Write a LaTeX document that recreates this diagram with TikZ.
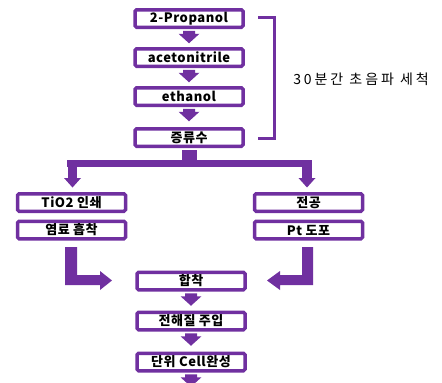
\documentclass[tikz,border=0pt]{standalone}
\usepackage{fontspec}
\setmainfont{Noto Sans CJK KR}
\newfontfamily\spacedfont[LetterSpace=21]{Noto Sans CJK KR}
\newfontfamily\boxfont[LetterSpace=4]{Noto Sans CJK KR}
\definecolor{vio}{HTML}{7030A0}
\begin{document}
\begin{tikzpicture}[x=1pt,y=-1pt,
  stepbox/.style={draw=vio,line width=3.5pt,fill=white,rounded corners=1.5pt,
    minimum width=108pt,minimum height=17.5pt,inner sep=0pt,
    font=\fontsize{13pt}{14pt}\boxfont\bfseries},
  blk/.style={fill=vio,draw=none}]
\useasboundingbox (0,0) rectangle (442,383);
% column boxes
\node[stepbox] (b1) at (189,18.5) {2-Propanol};
\node[stepbox] (b2) at (189,57.5) {acetonitrile};
\node[stepbox] (b3) at (189,96.5) {ethanol};
\node[stepbox] (b4) at (189,137.5) {증류수};
\node[stepbox] (l1) at (71.5,202.5) {TiO2 인쇄};
\node[stepbox] (l2) at (71.5,230) {염료 흡착};
\node[stepbox] (r1) at (308.5,202.5) {전공};
\node[stepbox] (r2) at (308.5,230) {Pt 도포};
\node[stepbox] (m1) at (191,281) {합착};
\node[stepbox] (m2) at (191,321) {전해질 주입};
\node[stepbox] (m3) at (191,362) {단위 Cell완성};
% chevrons
\foreach \a in {b1,b2,b3,m1,m2,m3}{
  \path (\a.south) ++(0,1.75) coordinate (t);
  \fill[blk] (t) ++(-6,0) -- ++(12,0) -- ++(0,3) -- ++(4.5,0) -- ++(-10.5,9.5) -- ++(-10.5,-9.5) -- ++(4.5,0) -- cycle;
}
% bracket
\coordinate (bt) at (258,17);
\coordinate (bb) at (258,138);
\draw[vio,line width=3pt] (bt) -- (274,17) -- (274,138) -- (bb);
\node[font=\fontsize{14pt}{15pt}\spacedfont] (lab) at (361,79) {30분간 초음파 세척};
% split arrow
\fill[blk] (b4.south) ++(-7,1.5) rectangle (197,167);
\fill[blk] (67,160) rectangle (312,167);
\fill[blk] (68,160) rectangle (77,178);
\fill[blk] (64,178) -- (81,178) -- (72.5,187.5) -- cycle;
\fill[blk] (302,160) rectangle (312,178);
\fill[blk] (298.5,178) -- (315.5,178) -- (307,187.5) -- cycle;
% L arrows
\fill[blk] (65,247) -- (77,247) -- (77,275) -- (100,275) -- (100,271) -- (112,280.5) -- (100,290) -- (100,285) -- (65,285) -- cycle;
\fill[blk] (313,247) -- (302,247) -- (302,275) -- (280,275) -- (280,271) -- (267,280.5) -- (280,290) -- (280,285) -- (313,285) -- cycle;
\end{tikzpicture}
\end{document}
